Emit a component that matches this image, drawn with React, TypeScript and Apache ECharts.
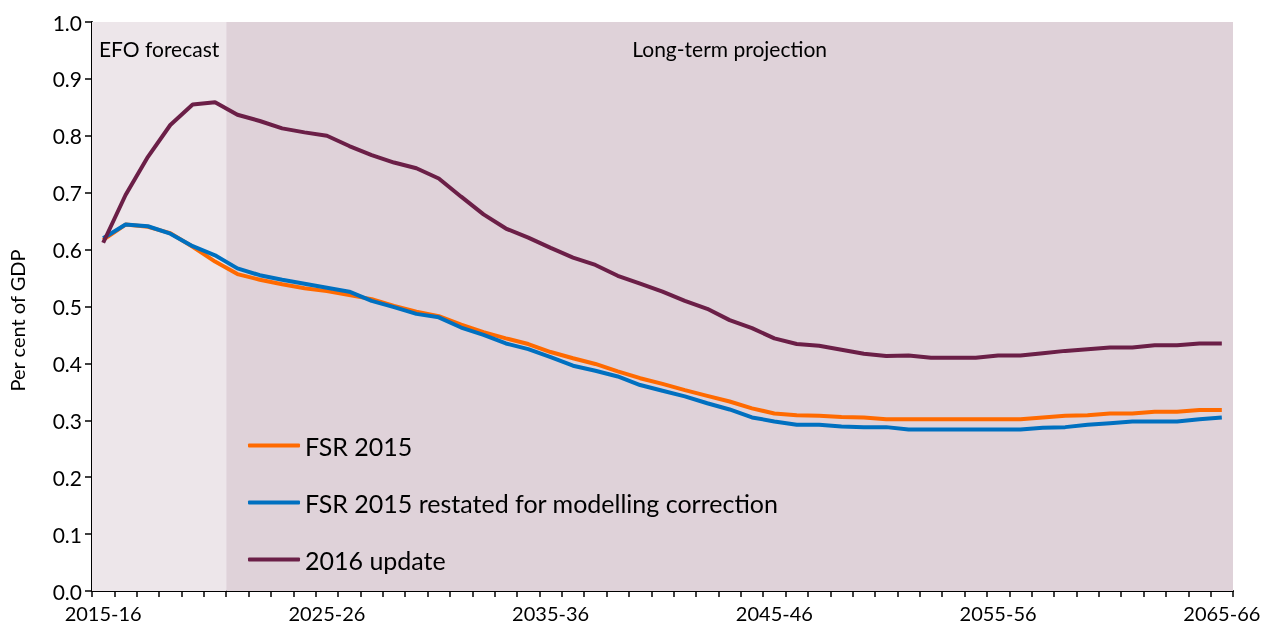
import React, { useEffect, useRef } from "react";
import * as echarts from "echarts";

const years: string[] = [];
for (let y = 2015; y <= 2065; y++) {
  years.push(`${y}-${String((y + 1) % 100).padStart(2, "0")}`);
}

const fsr2015 = [
  0.617, 0.644, 0.640, 0.629, 0.605, 0.579, 0.557, 0.547, 0.539, 0.532,
  0.527, 0.520, 0.513, 0.501, 0.491, 0.483, 0.468, 0.455, 0.444, 0.434,
  0.420, 0.409, 0.399, 0.386, 0.374, 0.364, 0.353, 0.343, 0.333, 0.321,
  0.312, 0.309, 0.308, 0.306, 0.305, 0.302, 0.302, 0.302, 0.302, 0.302,
  0.302, 0.302, 0.305, 0.308, 0.309, 0.312, 0.312, 0.315, 0.315, 0.318,
  0.318,
];

const fsr2015Restated = [
  0.620, 0.644, 0.641, 0.628, 0.606, 0.590, 0.567, 0.555, 0.547, 0.540,
  0.533, 0.526, 0.510, 0.499, 0.487, 0.481, 0.463, 0.450, 0.435, 0.425,
  0.411, 0.396, 0.387, 0.377, 0.362, 0.352, 0.342, 0.330, 0.319, 0.305,
  0.298, 0.292, 0.292, 0.289, 0.288, 0.288, 0.284, 0.284, 0.284, 0.284,
  0.284, 0.284, 0.287, 0.288, 0.292, 0.295, 0.298, 0.298, 0.298, 0.302,
  0.305,
];

const update2016 = [
  0.612, 0.696, 0.763, 0.819, 0.855, 0.859, 0.837, 0.826, 0.813, 0.806,
  0.800, 0.782, 0.766, 0.753, 0.743, 0.725, 0.693, 0.662, 0.637, 0.621,
  0.603, 0.586, 0.573, 0.554, 0.540, 0.526, 0.510, 0.496, 0.476, 0.462,
  0.444, 0.434, 0.431, 0.424, 0.417, 0.413, 0.414, 0.410, 0.410, 0.410,
  0.414, 0.414, 0.418, 0.422, 0.425, 0.428, 0.428, 0.432, 0.432, 0.435,
  0.435,
];

const yTicks = [0, 0.1, 0.2, 0.3, 0.4, 0.5, 0.6, 0.7, 0.8, 0.9, 1.0];
// region boundaries in category-band units
const regionBounds = [0, 6, 51];
const regionNames = ["EFO forecast", "Long-term projection"];

const FONT = "Lato, 'Noto Sans', sans-serif";

export default function App() {
  const ref = useRef<HTMLDivElement>(null);
  useEffect(() => {
    if (!ref.current) return;
    const chart = echarts.init(ref.current, undefined, { renderer: "svg" });
    chart.setOption({
      animation: false,
      textStyle: { fontFamily: FONT, color: "#000" },
      grid: {
        left: 92,
        right: 42,
        top: 22,
        bottom: 40,
        containLabel: false,
        outerBoundsMode: "none",
      },
      legend: {
        data: ["FSR 2015", "FSR 2015 restated for modelling correction", "2016 update"],
        orient: "vertical",
        left: 243,
        top: 428,
        icon: "roundRect",
        itemWidth: 52,
        itemHeight: 4,
        itemGap: 32,
        textStyle: { fontSize: 25, color: "#000", fontFamily: FONT },
        selectedMode: false,
      },
      xAxis: [
        {
          type: "category",
          data: years,
          boundaryGap: true,
          axisLine: { lineStyle: { color: "#000", width: 2 } },
          axisTick: { show: true, interval: 0, length: 6, lineStyle: { color: "#000", width: 1.5 } },
          axisLabel: { interval: 9, fontSize: 20, color: "#000", margin: 12, fontFamily: FONT },
          splitLine: { show: false },
        },
        {
          type: "value",
          min: regionBounds[0],
          max: regionBounds[regionBounds.length - 1],
          show: false,
        },
      ],
      yAxis: {
        type: "value",
        min: yTicks[0],
        max: yTicks[yTicks.length - 1],
        interval: 0.1,
        name: "Per cent of GDP",
        nameLocation: "middle",
        nameGap: 65,
        nameTextStyle: { fontSize: 20, color: "#000", fontFamily: FONT, padding: [0, 28, 0, 0] },
        axisLine: { show: true, lineStyle: { color: "#000", width: 2 } },
        axisTick: { show: true, length: 7, lineStyle: { color: "#000", width: 1.5 } },
        axisLabel: {
          fontSize: 21,
          color: "#000",
          margin: 10,
          fontFamily: FONT,
          formatter: (v: number) => v.toFixed(1),
        },
        splitLine: { show: true, lineStyle: { color: "#c4b6bf", type: [5, 4], width: 1.2 } },
      },
      series: [
        {
          name: "regions",
          type: "line",
          xAxisIndex: 1,
          yAxisIndex: 0,
          data: [],
          silent: true,
          z: 0,
          markArea: {
            silent: true,
            data: [
              [
                {
                  xAxis: regionBounds[0],
                  yAxis: yTicks[0],
                  name: regionNames[0],
                  itemStyle: { color: "#ede6ea" },
                },
                { xAxis: regionBounds[1], yAxis: yTicks[yTicks.length - 1] },
              ],
              [
                {
                  xAxis: regionBounds[1],
                  yAxis: yTicks[0],
                  name: regionNames[1],
                  itemStyle: { color: "#dfd2d9" },
                },
                { xAxis: regionBounds[2], yAxis: yTicks[yTicks.length - 1] },
              ],
            ],
            label: {
              show: true,
              position: "insideTop",
              distance: 16,
              fontSize: 21,
              color: "#000",
              fontFamily: FONT,
            },
          },
        },
        {
          name: "FSR 2015",
          type: "line",
          data: fsr2015,
          symbol: "none",
          lineStyle: { color: "#ff6a00", width: 4 },
          itemStyle: { color: "#ff6a00" },
          z: 3,
        },
        {
          name: "FSR 2015 restated for modelling correction",
          type: "line",
          data: fsr2015Restated,
          symbol: "none",
          lineStyle: { color: "#0070c0", width: 4 },
          itemStyle: { color: "#0070c0" },
          z: 4,
        },
        {
          name: "2016 update",
          type: "line",
          data: update2016,
          symbol: "none",
          lineStyle: { color: "#6b1f47", width: 4 },
          itemStyle: { color: "#6b1f47" },
          z: 5,
        },
      ],
    });
    return () => chart.dispose();
  }, []);
  return <div ref={ref} style={{ position: "fixed", left: 0, top: 0, width: 1275, height: 631 }} />;
}
